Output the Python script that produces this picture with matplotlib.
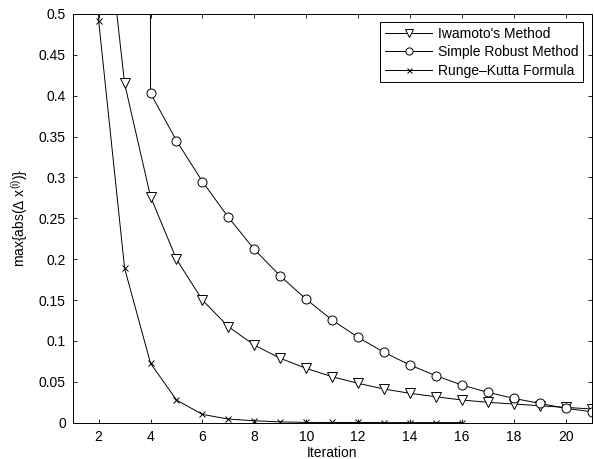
import matplotlib
matplotlib.use("Agg")
import matplotlib.pyplot as plt

plt.rcParams["font.family"] = ["Liberation Sans", "DejaVu Sans"]
plt.rcParams["mathtext.default"] = "regular"
plt.rcParams["font.size"] = 10

# max |dx| per iteration for the three solvers
iter_iwamoto = list(range(2, 22))
err_iwamoto = [0.70, 0.415, 0.2765, 0.200, 0.150, 0.1175, 0.095, 0.0788, 0.0665,
               0.0563, 0.0482, 0.0412, 0.0360, 0.0318, 0.0278, 0.0250, 0.0229,
               0.0208, 0.0188, 0.0168]

iter_robust = list(range(3, 22))
err_robust = [30.0, 0.403, 0.345, 0.295, 0.2513, 0.212, 0.1795, 0.151, 0.1256,
              0.1045, 0.0861, 0.0706, 0.0575, 0.0461, 0.0372, 0.0298, 0.0237,
              0.0176, 0.0135]

iter_rk = list(range(1, 17))
err_rk = [8.0, 0.4918, 0.189, 0.0727, 0.0278, 0.0102, 0.0045, 0.0024, 0.0010,
          0.0004, 0.0003, 0.0003, 0.0002, 0.0002, 0.0002, 0.0002]

fig = plt.figure(figsize=(5.94, 4.59), dpi=100)
ax = fig.add_axes([0.1224, 0.079, 0.8736, 0.8905])

ax.plot(iter_iwamoto, err_iwamoto, "k-", marker="v", ms=6.5, mfc="white",
        mew=0.7, lw=0.7, label="Iwamoto's Method")
ax.plot(iter_robust, err_robust, "k-", marker="o", ms=6.5, mfc="white",
        mew=0.7, lw=0.7, label="Simple Robust Method")
ax.plot(iter_rk, err_rk, "k-", marker="x", ms=4.5, mew=0.7, lw=0.7,
        label="Runge\u2013Kutta Formula")

ax.set_xlim(1, 21)
ax.set_ylim(0, 0.5)
ax.set_xticks(range(2, 21, 2))
ax.set_yticks([0, 0.05, 0.1, 0.15, 0.2, 0.25, 0.3, 0.35, 0.4, 0.45, 0.5])
ax.set_yticklabels(["0", "0.05", "0.1", "0.15", "0.2", "0.25", "0.3", "0.35",
                    "0.4", "0.45", "0.5"])
ax.tick_params(direction="in", top=True, right=True, length=3, width=0.6,
               labelsize=10, pad=5)
for s in ax.spines.values():
    s.set_linewidth(0.7)

ax.set_xlabel("Iteration", labelpad=2)
ax.set_ylabel("max{abs(\u0394 x$^{(i)}$)}", labelpad=6)

leg = ax.legend(loc="upper right", fancybox=False, framealpha=1,
                edgecolor="black", handlelength=3.4, borderpad=0.35,
                labelspacing=0.3, handletextpad=0.4, borderaxespad=0.6,
                markerscale=0.8)
leg.get_frame().set_linewidth(0.7)

fig.savefig("out.png", dpi=100)
